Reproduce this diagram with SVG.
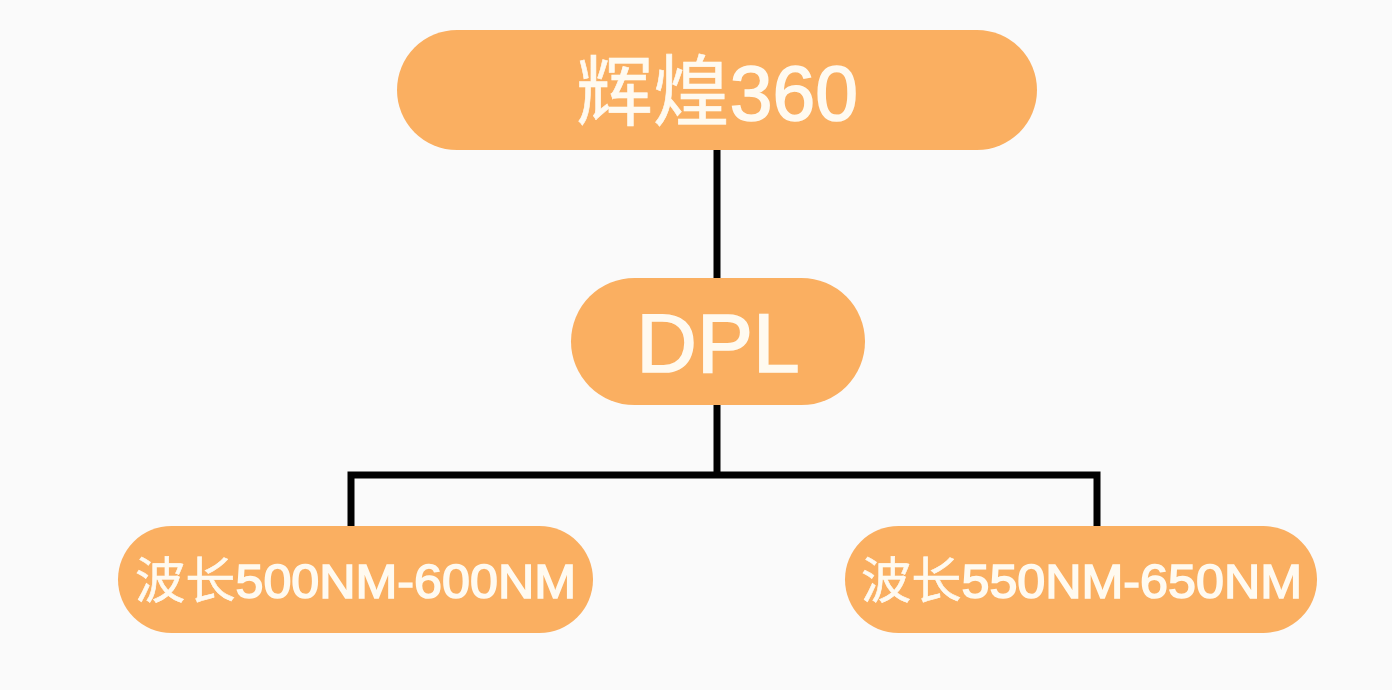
<svg xmlns="http://www.w3.org/2000/svg" width="1392" height="690" viewBox="0 0 1392 690">
<style>
.node{fill:#FAAF61}
.lbl{fill:#FFFAF0;stroke:#FFFAF0;stroke-width:1.6;font-family:"Liberation Sans","Noto Sans CJK SC",sans-serif;text-anchor:middle}
.cj{font-family:"Noto Sans CJK SC",sans-serif;font-weight:400;stroke-width:0.6}
.conn{stroke:#000;stroke-width:7;fill:none;stroke-linecap:butt;stroke-linejoin:miter}
</style>
<rect width="1392" height="690" fill="#FAFAFA"/>
<g id="connectors">
<path class="conn" d="M717 150V278"/>
<path class="conn" d="M717 405V475"/>
<path class="conn" d="M351 526V475H1097V526"/>
</g>
<g id="node-top">
<rect class="node" x="397" y="30" width="640" height="120" rx="60"/>
<text class="lbl" x="717" y="120" font-size="78" textLength="282" lengthAdjust="spacingAndGlyphs"><tspan class="cj">辉煌</tspan>360</text>
</g>
<g id="node-dpl">
<rect class="node" x="571" y="278" width="294" height="127" rx="63.5"/>
<text class="lbl" x="718" y="372" font-size="84" stroke-width="2.2">DPL</text>
</g>
<g id="node-left">
<rect class="node" x="118" y="526" width="475" height="107" rx="53.5"/>
<text class="lbl" x="355.5" y="598" font-size="49" stroke-width="1" textLength="441" lengthAdjust="spacingAndGlyphs"><tspan class="cj" stroke-width="0.3">波长</tspan>500NM-600NM</text>
</g>
<g id="node-right">
<rect class="node" x="845" y="526" width="472" height="107" rx="53.5"/>
<text class="lbl" x="1081.5" y="598" font-size="49" stroke-width="1" textLength="441" lengthAdjust="spacingAndGlyphs"><tspan class="cj" stroke-width="0.3">波长</tspan>550NM-650NM</text>
</g>
</svg>
